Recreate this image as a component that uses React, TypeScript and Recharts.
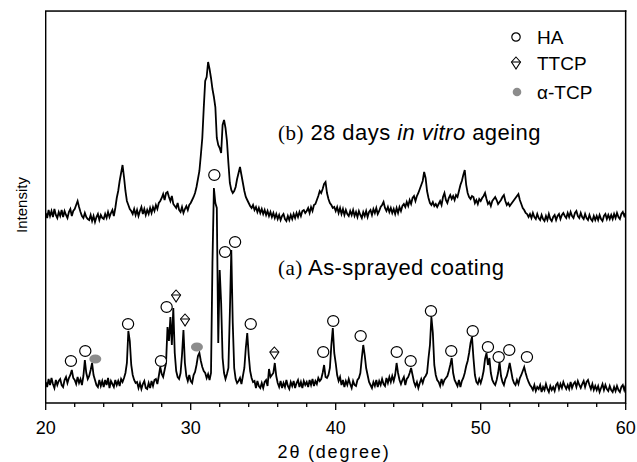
import React from 'react';
import { ComposedChart, Line, Scatter, XAxis, YAxis } from 'recharts';

// scan grid of the diffractometer (degrees 2-theta)
const SCAN_START = 20;
const SCAN_STEP = 0.1;

// (a) as-sprayed coating, intensity (a.u.) from 20.0 to 60.0 deg, step 0.1
const asSprayed = [
  21, 16, 24, 18, 25, 19, 15, 23, 18, 22,
  24, 18, 16, 23, 26, 20, 25, 28, 33, 25,
  23, 19, 26, 20, 24, 18, 27, 43, 30, 24,
  27, 33, 40, 28, 23, 18, 16, 23, 17, 22,
  16, 23, 18, 25, 15, 22, 19, 16, 23, 18,
  22, 17, 24, 21, 25, 30, 40, 72, 62, 38,
  28, 23, 20, 21, 15, 20, 14, 19, 22, 15,
  14, 20, 15, 22, 17, 23, 24, 19, 27, 36,
  29, 26, 33, 40, 76, 62, 86, 58, 95, 50,
  32, 26, 24, 30, 48, 73, 40, 27, 22, 28,
  22, 20, 28, 31, 38, 47, 50, 42, 36, 32,
  30, 25, 29, 23, 30, 140, 215, 200, 195, 60,
  133, 100, 45, 30, 24, 29, 35, 90, 153, 80,
  35, 24, 20, 22, 25, 19, 27, 35, 55, 70,
  48, 32, 25, 21, 22, 15, 22, 17, 15, 20,
  15, 21, 23, 17, 34, 26, 28, 30, 40, 27,
  20, 16, 22, 15, 20, 16, 23, 17, 14, 21,
  17, 22, 15, 20, 23, 16, 21, 15, 22, 18,
  21, 16, 23, 18, 24, 17, 22, 19, 25, 22,
  24, 30, 38, 26, 25, 28, 35, 58, 75, 50,
  40, 28, 22, 26, 18, 23, 16, 22, 18, 24,
  19, 15, 22, 18, 17, 23, 25, 30, 45, 58,
  48, 35, 28, 21, 18, 15, 21, 17, 23, 16,
  22, 18, 24, 19, 17, 25, 20, 26, 21, 27,
  22, 28, 40, 30, 23, 19, 23, 26, 18, 24,
  26, 30, 35, 28, 21, 17, 21, 15, 20, 24,
  20, 25, 27, 30, 45, 58, 86, 70, 38, 28,
  23, 21, 17, 24, 19, 23, 25, 27, 32, 38,
  45, 30, 23, 20, 17, 23, 16, 22, 25, 30,
  37, 42, 50, 60, 66, 45, 28, 21, 19, 24,
  20, 25, 32, 44, 50, 38, 45, 30, 23, 20,
  18, 23, 30, 41, 27, 21, 18, 24, 27, 33,
  40, 32, 24, 20, 18, 23, 19, 25, 28, 32,
  36, 30, 25, 21, 18, 16, 13, 18, 12, 16,
  14, 18, 11, 16, 13, 19, 14, 11, 17, 13,
  16, 12, 18, 20, 14, 19, 15, 21, 17, 14,
  18, 14, 21, 15, 19, 21, 16, 22, 18, 15,
  19, 22, 16, 21, 23, 18, 14, 19, 13, 17,
  13, 17, 11, 15, 19, 13, 18, 14, 12, 17,
  13, 11, 16, 12, 17, 13, 11, 16, 18, 13,
  18,
];

// (b) after 28 days in vitro ageing (offset trace), same scan grid
const aged = [
  190, 185, 193, 187, 192, 186, 194, 188, 185, 191,
  187, 193, 186, 192, 188, 185, 191, 194, 187, 192,
  194, 198, 202, 196, 191, 187, 185, 190, 186, 184,
  183, 188, 182, 187, 181, 186, 189, 183, 188, 185,
  184, 189, 185, 191, 186, 190, 193, 187, 195, 205,
  212, 222, 230, 238, 226, 212, 202, 198, 194, 192,
  189, 194, 188, 193, 187, 192, 196, 189, 194, 188,
  193, 189, 195, 190, 196, 192, 198, 194, 200, 202,
  205, 209, 203, 210, 211, 206, 202, 207, 199, 197,
  195, 200, 193, 191, 196, 190, 194, 197, 193, 198,
  200, 203, 206, 210, 216, 224, 232, 248, 265, 295,
  322, 326, 341, 334, 325, 314, 306, 296, 265, 258,
  255, 250, 278, 283, 275, 262, 240, 220, 213, 210,
  212, 216, 224, 230, 236, 228, 220, 212, 206, 203,
  200, 197, 195, 198, 193, 196, 191, 195, 190, 194,
  189, 193, 188, 192, 187, 191, 186, 190, 185, 189,
  184, 188, 183, 187, 189, 184, 182, 187, 183, 188,
  184, 189, 185, 190, 186, 191, 187, 192, 193, 190,
  192, 195, 190, 196, 192, 198, 199, 203, 207, 212,
  210, 214, 219, 221, 210, 204, 200, 198, 195, 196,
  192, 196, 190, 195, 189, 194, 188, 193, 189, 187,
  192, 188, 193, 187, 191, 186, 192, 188, 185, 191,
  187, 192, 186, 191, 193, 188, 194, 190, 195, 189,
  192, 196, 198, 201, 195, 192, 196, 191, 195, 190,
  194, 189, 195, 190, 196, 192, 197, 199, 196, 201,
  197, 203, 199, 205, 207, 202, 207, 210, 214, 218,
  222, 231, 225, 212, 205, 200, 198, 201, 197, 199,
  196, 199, 202, 198, 206, 210, 203, 200, 205, 208,
  204, 207, 203, 208, 206, 212, 218, 222, 228, 233,
  218, 210, 206, 204, 207, 206, 200, 203, 199, 204,
  202, 205, 207, 210, 204, 199, 201, 197, 202, 204,
  206, 203, 199, 201, 203, 206, 208, 202, 198, 200,
  197, 199, 201, 203, 205, 207, 209, 203, 199, 195,
  193, 190, 189, 186, 189, 185, 190, 186, 184, 189,
  185, 183, 188, 184, 182, 187, 183, 189, 184, 182,
  186, 188, 183, 187, 189, 184, 188, 190, 187, 185,
  190, 186, 191, 187, 185, 190, 192, 187, 185, 190,
  186, 184, 189, 185, 183, 188, 184, 182, 187, 183,
  187, 183, 188, 184, 182, 187, 189, 184, 188, 184,
  188, 184, 189, 185, 190, 186, 184, 189, 191, 187,
  190,
];

const xTicks = [20, 22, 24, 26, 28, 30, 32, 34, 36, 38, 40, 42, 44, 46, 48, 50, 52, 54, 56, 58, 60];
const majorTicks = [20, 30, 40, 50, 60];

// phase markers: 2-theta position and marker height (a.u.)
const haTheta = [21.74, 22.73, 25.68, 27.95, 28.34, 31.63, 32.37, 33.06, 34.14, 39.14, 39.83, 41.72, 44.21, 45.17, 46.57, 47.97, 49.45, 50.5, 51.24, 51.97, 53.19];
const haLevel = [42, 52, 79, 42, 96, 228, 151, 161, 79, 51, 82, 67, 51, 42, 92, 52, 72, 56, 46, 53, 46];
const ttcpTheta = [28.99, 29.61, 35.77];
const ttcpLevel = [107, 83, 50];
const atcpTheta = [23.42, 30.43];
const atcpLevel = [44, 56];

const rows = asSprayed.map((a, i) => ({
  theta: Math.round((SCAN_START + i * SCAN_STEP) * 10) / 10,
  a,
  b: aged[i],
}));
const haData = haTheta.map((t, i) => ({ theta: t, v: haLevel[i] }));
const ttcpData = ttcpTheta.map((t, i) => ({ theta: t, v: ttcpLevel[i] }));
const atcpData = atcpTheta.map((t, i) => ({ theta: t, v: atcpLevel[i] }));

const SANS = "Arial, 'Liberation Sans', sans-serif";
const SERIF = "'Times New Roman', 'Liberation Serif', serif";

const AxisTick = (props: any) => {
  const { x, y, payload } = props;
  const major = majorTicks.includes(payload.value);
  return (
    <g>
      <line x1={x} x2={x} y1={y} y2={y + (major ? 7 : 4)} stroke="#000" strokeWidth={1.3} />
      {major && (
        <text x={x} y={y + 25} dy="0.36em" textAnchor="middle" fontSize={18} fontFamily={SANS} fill="#000">
          {payload.value}
        </text>
      )}
    </g>
  );
};

const HaShape = (props: any) => {
  const { cx, cy } = props;
  if (cx == null || cy == null) return null;
  return <ellipse cx={cx} cy={cy} rx={5.6} ry={5.4} fill="#fff" stroke="#000" strokeWidth={1.2} />;
};

const TtcpPath = ({ cx, cy }: { cx: number; cy: number }) => (
  <g>
    <path
      d={`M${cx},${cy - 6} L${cx + 4.5},${cy - 1} L${cx},${cy + 6} L${cx - 4.5},${cy - 1} Z`}
      fill="#fff"
      stroke="#000"
      strokeWidth={1.1}
    />
    <line x1={cx - 4.5} x2={cx + 4.5} y1={cy - 1} y2={cy - 1} stroke="#000" strokeWidth={1.1} />
  </g>
);

const TtcpShape = (props: any) => {
  const { cx, cy } = props;
  if (cx == null || cy == null) return null;
  return <TtcpPath cx={cx} cy={cy} />;
};

const AtcpShape = (props: any) => {
  const { cx, cy } = props;
  if (cx == null || cy == null) return null;
  return <ellipse cx={cx} cy={cy} rx={6} ry={4.6} fill="#8c8c8c" />;
};

const Txt = ({ x, y, children, style }: any) => (
  <div
    style={{
      position: 'absolute',
      left: x,
      top: y,
      transform: 'translateY(-50%)',
      whiteSpace: 'nowrap',
      lineHeight: 1,
      color: '#000',
      ...style,
    }}
  >
    {children}
  </div>
);

const frame = { stroke: '#000', strokeWidth: 1.4 };

export default function App() {
  return (
    <div style={{ position: 'relative', width: 637, height: 462, overflow: 'hidden' }}>
      <style>{'html,body{margin:0;padding:0;overflow:hidden;}'}</style>
      <ComposedChart
        width={637}
        height={462}
        data={rows}
        margin={{ top: 11, right: 11.3, bottom: 19, left: 44.7 }}
      >
        <XAxis
          dataKey="theta"
          type="number"
          domain={[20, 60]}
          ticks={xTicks}
          interval={0}
          tick={<AxisTick />}
          tickLine={false}
          tickSize={0}
          tickMargin={0}
          height={40}
          axisLine={frame}
          allowDataOverflow
        />
        <YAxis
          type="number"
          domain={[0, 392]}
          tick={false}
          tickLine={false}
          width={1}
          axisLine={frame}
          allowDataOverflow
        />
        <Line dataKey="b" type="linear" stroke="#000" strokeWidth={1.8} dot={false} isAnimationActive={false} />
        <Line dataKey="a" type="linear" stroke="#000" strokeWidth={1.8} dot={false} isAnimationActive={false} />
        <Scatter data={haData} dataKey="v" shape={HaShape} isAnimationActive={false} />
        <Scatter data={ttcpData} dataKey="v" shape={TtcpShape} isAnimationActive={false} />
        <Scatter data={atcpData} dataKey="v" shape={AtcpShape} isAnimationActive={false} />
      </ComposedChart>

      {/* top and right edges of the plot frame */}
      <svg
        style={{ position: 'absolute', left: 0, top: 0, pointerEvents: 'none', zIndex: 5 }}
        width={637}
        height={462}
        viewBox="0 0 637 462"
      >
        <rect x={45} y={10.3} width={581.4} height={1.5} fill="#000" />
        <rect x={624.9} y={10.3} width={1.5} height={393.4} fill="#000" />
      </svg>

      {/* legend */}
      <svg style={{ position: 'absolute', left: 508, top: 29 }} width={16} height={80}>
        <ellipse cx={8} cy={8} rx={4.2} ry={4.2} fill="#fff" stroke="#000" strokeWidth={1.2} />
        <TtcpPath cx={8} cy={34} />
        <circle cx={9} cy={63} r={4.3} fill="#8c8c8c" />
      </svg>
      <Txt x={537} y={37} style={{ fontFamily: SANS, fontSize: 19 }}>HA</Txt>
      <Txt x={537} y={63} style={{ fontFamily: SANS, fontSize: 19 }}>TTCP</Txt>
      <Txt x={537} y={92} style={{ fontFamily: SANS, fontSize: 19 }}>α-TCP</Txt>

      {/* annotations */}
      <Txt x={278} y={133} style={{ fontFamily: SANS, fontSize: 22, letterSpacing: 0.45 }}>
        <span style={{ fontFamily: SERIF, fontSize: 21 }}>(b)</span> 28 days <i>in vitro</i> ageing
      </Txt>
      <Txt x={278} y={268} style={{ fontFamily: SANS, fontSize: 22, letterSpacing: 0.45 }}>
        <span style={{ fontFamily: SERIF, fontSize: 21 }}>(a)</span> As-sprayed coating
      </Txt>

      {/* axis titles */}
      <div
        style={{
          position: 'absolute',
          left: 21,
          top: 205,
          transform: 'translate(-50%, -50%) rotate(-90deg)',
          fontFamily: SANS,
          fontSize: 15,
          lineHeight: 1,
          whiteSpace: 'nowrap',
          color: '#000',
        }}
      >
        Intensity
      </div>
      <div
        style={{
          position: 'absolute',
          left: 334,
          top: 452,
          transform: 'translate(-50%, -50%)',
          fontFamily: SANS,
          fontSize: 18,
          letterSpacing: 1.8,
          lineHeight: 1,
          whiteSpace: 'nowrap',
          color: '#000',
        }}
      >
        2θ (degree)
      </div>
    </div>
  );
}
